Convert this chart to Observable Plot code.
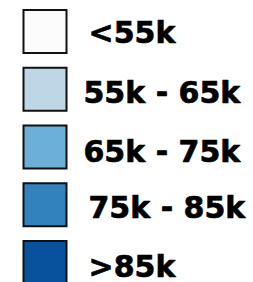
<!DOCTYPE html>
<html>
<head>
<meta charset="utf-8">
<script src="https://cdn.jsdelivr.net/npm/d3@7"></script>
<script src="https://cdn.jsdelivr.net/npm/@observablehq/plot@0.6"></script>
<style>
  html, body { margin: 0; padding: 0; background: #fff; }
  #chart svg { display: block; }
</style>
</head>
<body>
<div id="chart"></div>
<script>
const labels = ["<55k", "55k - 65k", "65k - 75k", "75k - 85k", ">85k"];
const colors = ["#fcfcfc", "#bdd7e7", "#6baed6", "#3182bd", "#08519c"];
// layout tweaks (pixels)
const textShiftX = [5, 0, 0, 5, 5];
const textShiftY = [1, 3, 4, 2.5, 4];

const rowStep = 57.75;
const rows = labels.map((label, i) => ({label, i, color: colors[i], sx: textShiftX[i], sy: textShiftY[i]}));

const chart = Plot.plot({
  width: 253,
  height: 282,
  margin: 0,
  x: {type: "linear", domain: [0, 253], range: [0, 253], axis: null},
  y: {type: "linear", domain: [0, 4], range: [31, 31 + 4 * rowStep], axis: null},
  marks: [
    Plot.dot(rows, {
      x: () => 44.5,
      y: "i",
      symbol: "square",
      r: 43 / Math.sqrt(Math.PI),
      fill: "color",
      stroke: "#111",
      strokeWidth: 2
    }),
    Plot.text(rows, {
      x: d => 83 + d.sx,
      y: d => d.i + d.sy / rowStep,
      text: "label",
      textAnchor: "start",
      dy: 1.3,
      fontSize: 30,
      fontWeight: "bold",
      fontFamily: "DejaVu Sans",
      fill: "#000",
      stroke: "#000",
      strokeWidth: 0.7
    })
  ]
});
document.getElementById("chart").appendChild(chart);
</script>
</body>
</html>
